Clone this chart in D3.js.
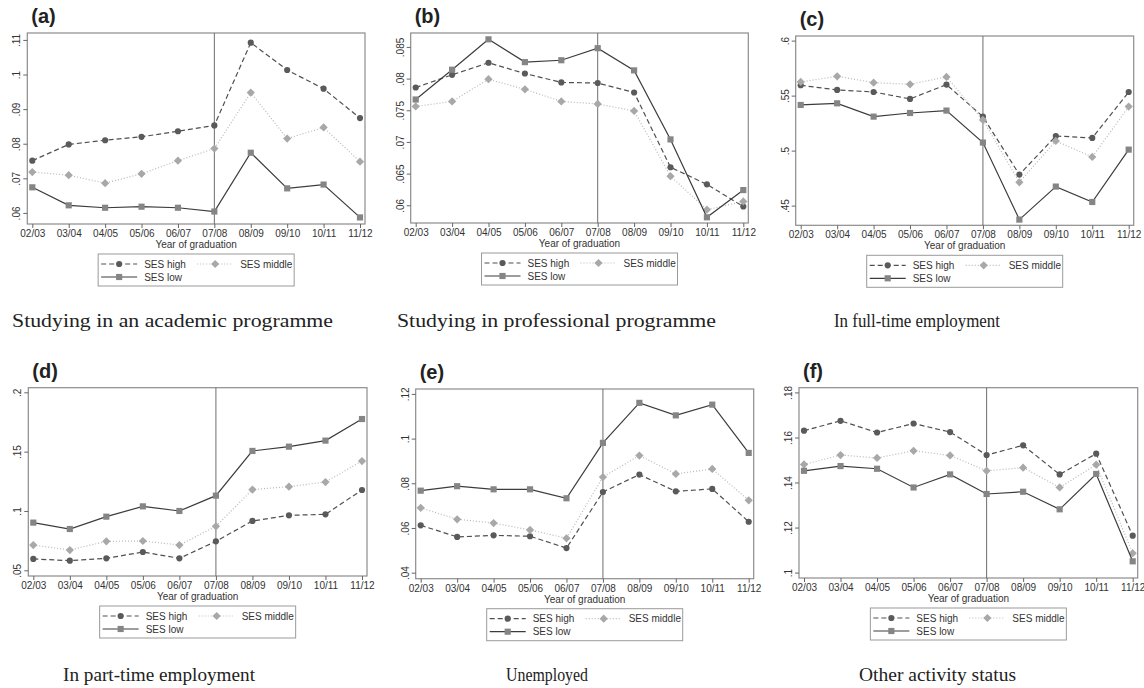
<!DOCTYPE html>
<html>
<head>
<meta charset="utf-8">
<script src="https://cdn.jsdelivr.net/npm/d3@7"></script>
<style>
    body { margin: 0; background: #fff; }
    .tick-label, .axis-title, .legend-text { font-family: "Liberation Sans", Arial, sans-serif; font-size: 10px; fill: #333; }
    .panel-tag { font-family: "Liberation Sans", Arial, sans-serif; font-size: 20px; font-weight: bold; fill: #222; }
    .caption { font-family: "Liberation Serif", "Times New Roman", serif; font-size: 19px; fill: #222; }
</style>
</head>
<body>
<div id="chart"></div>
<script>
const years = ["02/03", "03/04", "04/05", "05/06", "06/07", "07/08", "08/09", "09/10", "10/11", "11/12"];
const seriesNames = ["SES high", "SES middle", "SES low"];
const panelTags = ["(a)", "(b)", "(c)", "(d)", "(e)", "(f)"];
const captions = [
    "Studying in an academic programme",
    "Studying in professional programme",
    "In full-time employment",
    "In part-time employment",
    "Unemployed",
    "Other activity status"
];

// (a) academic programme
const academicHigh = [.0751, .0798, .0810, .0820, .0836, .0853, .1092, .1013, .0959, .0874];
const academicMiddle = [.0718, .0709, .0686, .0713, .0751, .0786, .0948, .0815, .0847, .0748];
const academicLow = [.0674, .0622, .0615, .0618, .0615, .0604, .0774, .0671, .0682, .0587];
const academicTicks = [.06, .07, .08, .09, .1, .11];
const academicLimits = [.0568, .112];

// (b) professional programme
const professionalHigh = [.0786, .0806, .0825, .0808, .0794, .0793, .0778, .0660, .0633, .0598];
const professionalMiddle = [.0756, .0764, .0799, .0783, .0764, .0760, .0749, .0646, .0593, .0606];
const professionalLow = [.0767, .0814, .0862, .0826, .0829, .0848, .0813, .0704, .0581, .0624];
const professionalTicks = [.06, .065, .07, .075, .08, .085];
const professionalLimits = [.0572, .0872];

// (c) full-time employment
const fullTimeHigh = [.5594, .5552, .5533, .5470, .5600, .5309, .4782, .5133, .5115, .5533];
const fullTimeMiddle = [.5624, .5676, .5618, .5603, .5670, .5279, .4712, .5088, .4942, .5400];
const fullTimeLow = [.5415, .5430, .5309, .5342, .5364, .5073, .4373, .4673, .4533, .5009];
const fullTimeTicks = [.45, .5, .55, .6];
const fullTimeLimits = [.4321, .6042];

// (d) part-time employment
const partTimeHigh = [.0596, .0581, .0601, .0654, .0601, .0744, .0916, .0963, .0972, .1177];
const partTimeMiddle = [.0713, .0671, .0744, .0747, .0713, .0871, .1180, .1205, .1244, .1421];
const partTimeLow = [.0902, .0848, .0952, .1039, .1000, .1129, .1506, .1542, .1593, .1775];
const partTimeTicks = [.05, .1, .15, .2];
const partTimeLimits = [.0452, .2039];

// (e) unemployed
const unemployedHigh = [.0612, .0560, .0567, .0563, .0510, .0761, .0839, .0764, .0775, .0628];
const unemployedMiddle = [.0690, .0639, .0622, .0591, .0554, .0828, .0924, .0842, .0864, .0724];
const unemployedLow = [.0767, .0787, .0773, .0773, .0733, .0981, .1160, .1104, .1152, .0936];
const unemployedTicks = [.04, .06, .08, .1, .12];
const unemployedLimits = [.0373, .1222];

// (f) other activity status
const otherHigh = [.1630, .1674, .1622, .1662, .1624, .1522, .1565, .1436, .1528, .1164];
const otherMiddle = [.1480, .1522, .1509, .1541, .1520, .1452, .1466, .1378, .1479, .1086];
const otherLow = [.1452, .1473, .1461, .1378, .1436, .1349, .1359, .1281, .1438, .1050];
const otherTicks = [.1, .12, .14, .16, .18];
const otherLimits = [.0976, .1821];

const WIDTH = 1144;
const HEIGHT = 688;

// layout of each panel (first/last marker x, frame top/bottom, caption box)
const panels = [
    { values: [academicHigh, academicMiddle, academicLow], ticks: academicTicks, limits: academicLimits,
      x0: 32.3, x1: 360, top: 33, bottom: 224, capX: 12, capW: 321, capY: 327 },
    { values: [professionalHigh, professionalMiddle, professionalLow], ticks: professionalTicks, limits: professionalLimits,
      x0: 415.7, x1: 743.3, top: 33, bottom: 223, capX: 397, capW: 319, capY: 327 },
    { values: [fullTimeHigh, fullTimeMiddle, fullTimeLow], ticks: fullTimeTicks, limits: fullTimeLimits,
      x0: 800.7, x1: 1128.7, top: 36, bottom: 225.3, capX: 834, capW: 166, capY: 327 },
    { values: [partTimeHigh, partTimeMiddle, partTimeLow], ticks: partTimeTicks, limits: partTimeLimits,
      x0: 33.3, x1: 362, top: 387.7, bottom: 576, capX: 63, capW: 192, capY: 681 },
    { values: [unemployedHigh, unemployedMiddle, unemployedLow], ticks: unemployedTicks, limits: unemployedLimits,
      x0: 420.7, x1: 748.7, top: 389, bottom: 578.7, capX: 506, capW: 82, capY: 681 },
    { values: [otherHigh, otherMiddle, otherLow], ticks: otherTicks, limits: otherLimits,
      x0: 804, x1: 1132.7, top: 387.7, bottom: 578, capX: 859, capW: 157, capY: 681 }
];

// diamond = square turned 45 degrees
const styles = [
    { stroke: "#505050", dash: "5,3", symbol: d3.symbolCircle, size: 30, rot: 0, fill: "#5a5a5a" },
    { stroke: "#b8b8b8", dash: "1,2", symbol: d3.symbolSquare, size: 34, rot: 45, fill: "#a8a8a8" },
    { stroke: "#3c3c3c", dash: null, symbol: d3.symbolSquare, size: 38, rot: 0, fill: "#858585" }
];

const PAD = 5;

let svg = d3.select("#chart")
    .append("svg")
    .attr("width", WIDTH)
    .attr("height", HEIGHT);

const tickFormat = (d) => String(d).replace(/^0\./, ".");

panels.forEach((p, i) => drawPanel(p, i));

function drawPanel(p, i) {
    let g = svg.append("g");
    let left = p.x0 - PAD;
    let right = p.x1 + PAD;
    let cx = (left + right) / 2;

    let xScale = d3.scalePoint()
        .domain(years)
        .range([p.x0, p.x1]);

    let yScale = d3.scaleLinear()
        .domain(p.limits)
        .range([p.bottom, p.top]);

    // frame
    g.append("rect")
        .attr("x", left)
        .attr("y", p.top)
        .attr("width", right - left)
        .attr("height", p.bottom - p.top)
        .attr("fill", "none")
        .attr("stroke", "#8c8c8c")
        .attr("stroke-width", 1.2);

    // y axis
    let yAxis = g.append("g")
        .attr("transform", "translate(" + left + ",0)")
        .call(d3.axisLeft(yScale).tickValues(p.ticks).tickSize(4).tickFormat(tickFormat));
    yAxis.select(".domain").remove();
    yAxis.selectAll(".tick line").attr("stroke", "#666");
    yAxis.selectAll(".tick text")
        .attr("class", "tick-label")
        .attr("x", null)
        .attr("dy", null)
        .attr("text-anchor", "middle")
        .attr("transform", "translate(-7,0)rotate(-90)");

    // x axis
    let xAxis = g.append("g")
        .attr("transform", "translate(0," + p.bottom + ")")
        .call(d3.axisBottom(xScale).tickSize(4).tickPadding(2));
    xAxis.select(".domain").remove();
    xAxis.selectAll(".tick line").attr("stroke", "#666");
    xAxis.selectAll(".tick text").attr("class", "tick-label");

    g.append("text")
        .attr("class", "axis-title")
        .attr("x", cx)
        .attr("y", p.bottom + 24)
        .attr("text-anchor", "middle")
        .text("Year of graduation");

    // vertical line at 07/08
    g.append("line")
        .attr("x1", xScale("07/08"))
        .attr("x2", xScale("07/08"))
        .attr("y1", p.top)
        .attr("y2", p.bottom)
        .attr("stroke", "#6e6e6e")
        .attr("stroke-width", 1);

    // series
    p.values.forEach((vals, s) => {
        let st = styles[s];
        let pts = years.map((yr, k) => ({ year: yr, value: vals[k] }));
        let line = d3.line()
            .x(d => xScale(d.year))
            .y(d => yScale(d.value));
        g.append("path")
            .datum(pts)
            .attr("d", line)
            .attr("fill", "none")
            .attr("stroke", st.stroke)
            .attr("stroke-width", 1.2)
            .attr("stroke-dasharray", st.dash);
        g.selectAll(null)
            .data(pts)
            .enter()
            .append("path")
            .attr("d", d3.symbol().type(st.symbol).size(st.size))
            .attr("transform", d => "translate(" + xScale(d.year) + "," + yScale(d.value) + ")rotate(" + st.rot + ")")
            .attr("fill", st.fill);
    });

    // panel tag
    g.append("text")
        .attr("class", "panel-tag")
        .attr("x", left + 4)
        .attr("y", p.top - 10)
        .text(panelTags[i]);

    // legend
    let L = cx - 98;
    let T = p.bottom + 30;
    let legend = g.append("g").attr("transform", "translate(" + L + "," + T + ")");
    legend.append("rect")
        .attr("width", 196)
        .attr("height", 32)
        .attr("fill", "none")
        .attr("stroke", "#9a9a9a");
    let slots = [{ x: 3, y: 10 }, { x: 99, y: 10 }, { x: 3, y: 23 }];
    slots.forEach((sl, s) => {
        let st = styles[s];
        legend.append("line")
            .attr("x1", sl.x).attr("x2", sl.x + 36)
            .attr("y1", sl.y).attr("y2", sl.y)
            .attr("stroke", st.stroke)
            .attr("stroke-width", 1.2)
            .attr("stroke-dasharray", st.dash);
        legend.append("path")
            .attr("d", d3.symbol().type(st.symbol).size(st.size))
            .attr("transform", "translate(" + (sl.x + 18) + "," + sl.y + ")rotate(" + st.rot + ")")
            .attr("fill", st.fill);
        legend.append("text")
            .attr("class", "legend-text")
            .attr("x", sl.x + 43)
            .attr("y", sl.y)
            .attr("dy", "0.35em")
            .text(seriesNames[s]);
    });

    // caption below the panel
    svg.append("text")
        .attr("class", "caption")
        .attr("x", p.capX)
        .attr("y", p.capY)
        .attr("textLength", p.capW)
        .attr("lengthAdjust", "spacingAndGlyphs")
        .text(captions[i]);
}
</script>
</body>
</html>
